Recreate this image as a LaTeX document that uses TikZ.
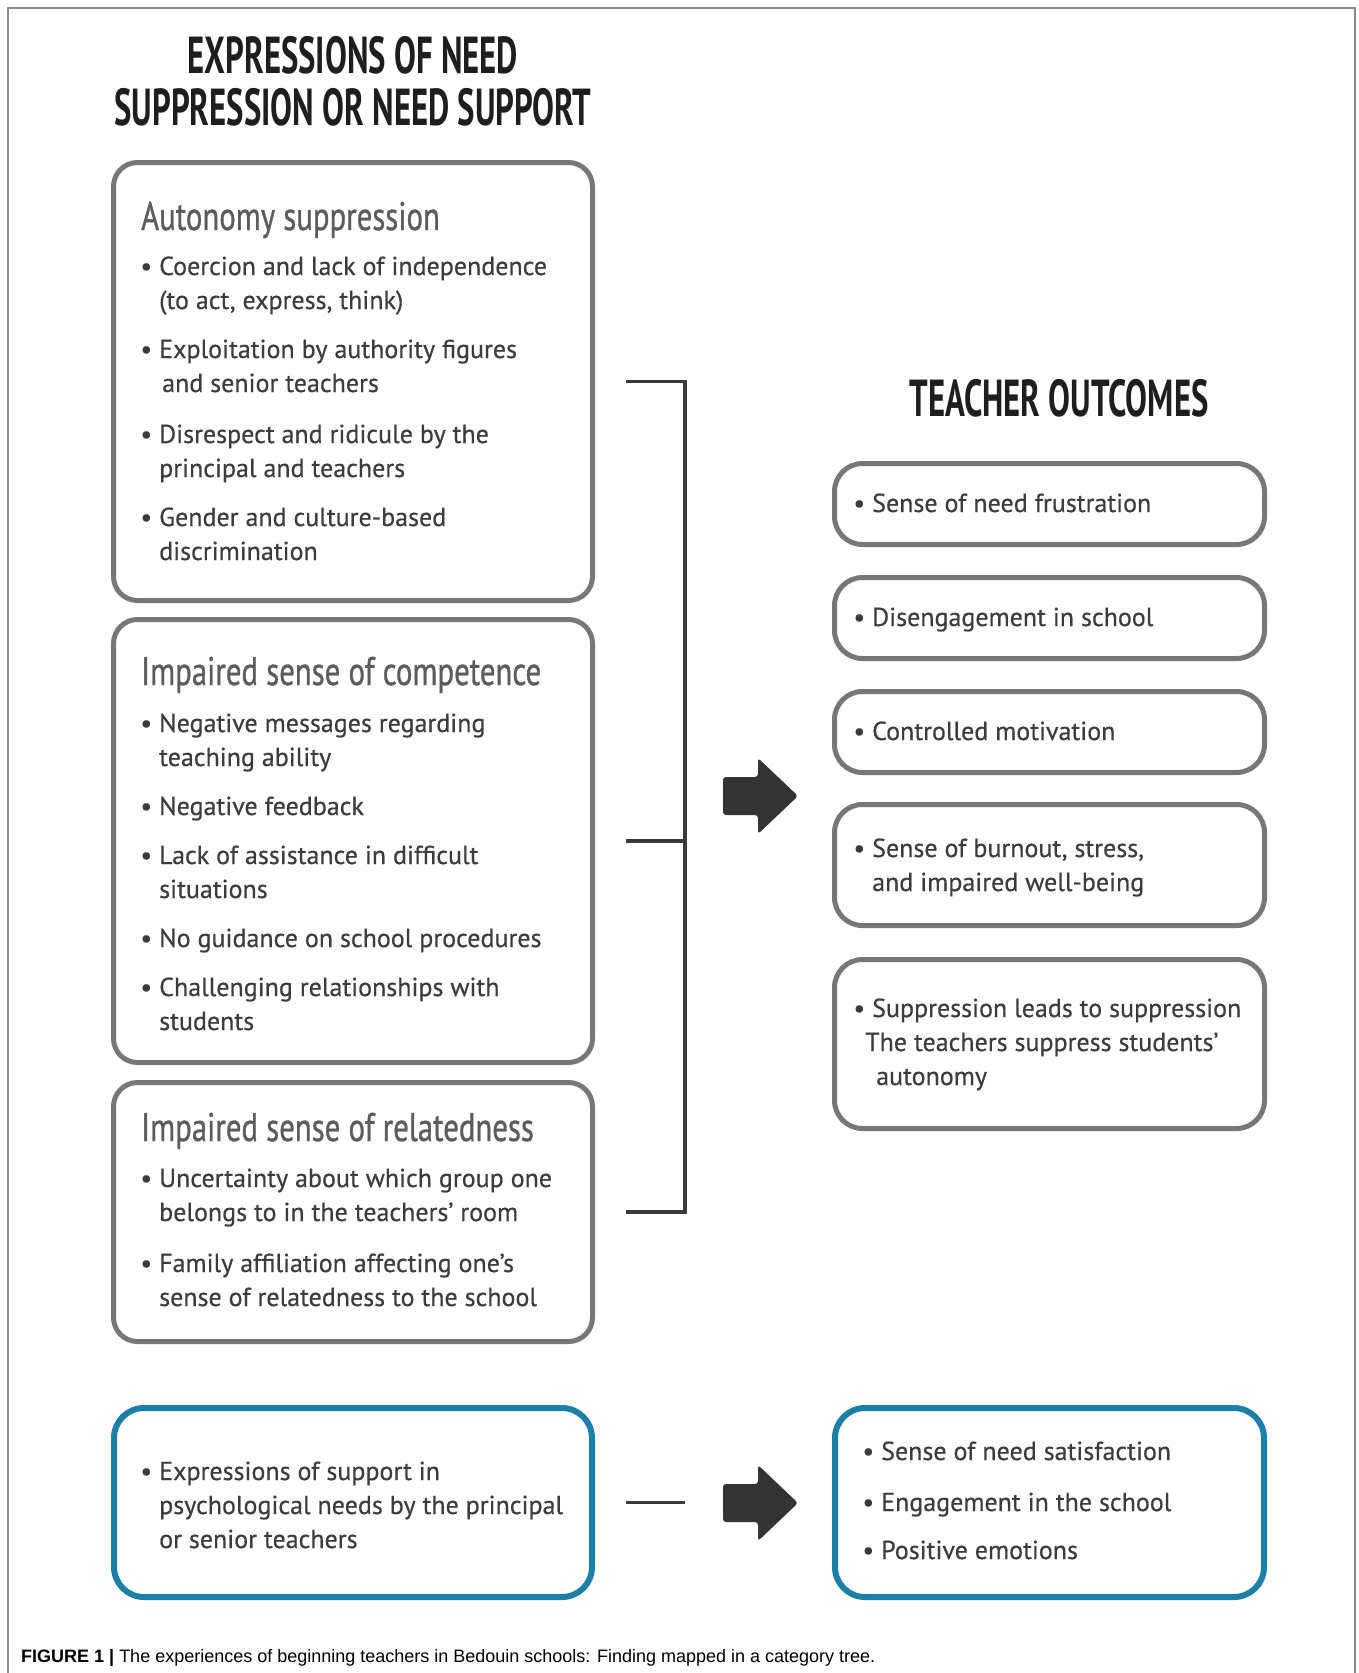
\documentclass[tikz,border=0pt]{standalone}
\usepackage{fontspec}
\setmainfont{PT Sans}[FakeBold=0.5]
\newfontfamily\headfont{PT Sans}[FakeStretch=0.77, FakeBold=0.8]
\newfontfamily\titlefont{PT Sans}[FakeStretch=0.63]
\newfontfamily\capfont{Liberation Sans}
\usetikzlibrary{positioning}

\definecolor{boxgray}{HTML}{777777}
\definecolor{txtgray}{HTML}{3C3C3C}
\definecolor{headgray}{HTML}{5C5C5C}
\definecolor{titlegray}{HTML}{1E1E1E}
\definecolor{linkgray}{HTML}{3A3A3A}
\definecolor{arrowgray}{HTML}{333333}
\definecolor{supblue}{HTML}{1B7FA8}
\definecolor{framegray}{HTML}{8A8A8A}

\newcommand{\bul}[1]{\begin{tabular}[t]{@{}l@{}}\llap{\textbullet\hspace{7pt}}#1\end{tabular}}

\begin{document}
\begin{tikzpicture}[x=1pt, y=-1pt,
    needbox/.style={draw=boxgray, line width=5pt, rounded corners=24pt, inner sep=0pt},
    outbox/.style={draw=boxgray, line width=5pt, rounded corners=28pt, inner sep=0pt},
    supbox/.style={draw=supblue, line width=6pt, rounded corners=30pt, inner sep=0pt},
    titletxt/.style={inner sep=0pt, text=titlegray, font=\titlefont\bfseries\fontsize{52}{52}\selectfont},
    headtxt/.style={anchor=base west, inner sep=0pt, text=headgray, font=\headfont\fontsize{40}{44}\selectfont},
    itemtxt/.style={anchor=base west, inner sep=0pt, text=txtgray, font=\fontsize{26}{34}\selectfont},
    linkline/.style={draw=linkgray, line width=3.5pt},
    fatarrow/.style={fill=arrowgray, rounded corners=3pt}]
    \useasboundingbox (0,0) rectangle (1358,1673);
    \draw[framegray, line width=1.5pt] (8,1673) -- (8,8) -- (1355,8) -- (1355,1673);

    \node[titletxt, align=center] (needtitle) at (353,81) {EXPRESSIONS OF NEED\\SUPPRESSION OR NEED SUPPORT};
    \node[titletxt] (outtitle) at (1059,398) {TEACHER OUTCOMES};

    \node[needbox, minimum width=479pt, minimum height=438pt] (auton) at (353,381.5) {};
    \node[needbox, minimum width=479pt, minimum height=443pt] (compe) at (353,841) {};
    \node[needbox, minimum width=479pt, minimum height=259pt] (relat) at (353,1212) {};

    \node[headtxt] (autonhead) at (141,230) {Autonomy suppression};
    \node[itemtxt] (auton1) at (159,275) {\bul{Coercion and lack of independence\\(to act, express, think)}};
    \node[itemtxt] (auton2) at (159,358) {\bul{Exploitation by authority figures\\\hspace*{3pt}and senior teachers}};
    \node[itemtxt] (auton3) at (159,443) {\bul{Disrespect and ridicule by the\\principal and teachers}};
    \node[itemtxt] (auton4) at (159,526) {\bul{Gender and culture-based\\discrimination}};

    \node[headtxt] (compehead) at (141,685) {Impaired sense of competence};
    \node[itemtxt] (compe1) at (159,732) {\bul{Negative messages regarding\\teaching ability}};
    \node[itemtxt] (compe2) at (159,815) {\bul{Negative feedback}};
    \node[itemtxt] (compe3) at (159,864) {\bul{Lack of assistance in difficult\\situations}};
    \node[itemtxt] (compe4) at (159,947) {\bul{No guidance on school procedures}};
    \node[itemtxt] (compe5) at (159,996) {\bul{Challenging relationships with\\students}};

    \node[headtxt] (relathead) at (141,1141) {Impaired sense of relatedness};
    \node[itemtxt] (relat1) at (159,1187) {\bul{Uncertainty about which group one\\belongs to in the teachers’ room}};
    \node[itemtxt] (relat2) at (159,1272) {\bul{Family affiliation affecting one’s\\sense of relatedness to the school}};

    \draw[linkline] ([xshift=31pt]auton.east) -- ++(59,0) |- ([xshift=31pt]relat.east);
    \draw[linkline] ([xshift=31pt]compe.east) -- ++(59,0);
    \fill[fatarrow, shift={(723,796)}] (0,-19) -- (35,-19) -- (35,-38) -- (75,0) -- (35,38) -- (35,19) -- (0,19) -- cycle;

    \node[outbox, minimum width=430pt, minimum height=81pt] (frust) at (1049.5,504) {};
    \node[outbox, minimum width=430pt, minimum height=81pt] (diseng) at (1049.5,618) {};
    \node[outbox, minimum width=430pt, minimum height=81pt] (contr) at (1049.5,732) {};
    \node[outbox, minimum width=430pt, minimum height=121pt] (burn) at (1049.5,865) {};
    \node[outbox, minimum width=430pt, minimum height=169pt] (suppr) at (1049.5,1044) {};
    \node[itemtxt] (frusttxt) at (872,512) {\bul{Sense of need frustration}};
    \node[itemtxt] (disengtxt) at (872,626) {\bul{Disengagement in school}};
    \node[itemtxt] (contrtxt) at (872,740) {\bul{Controlled motivation}};
    \node[itemtxt] (burntxt) at (872,857) {\bul{Sense of burnout, stress,\\and impaired well-being}};
    \node[itemtxt] (supprtxt) at (872,1017) {\bul{Suppression leads to suppression\\\hspace*{-7pt}The teachers suppress students’\\\hspace*{4pt}autonomy}};

    \node[supbox, minimum width=478pt, minimum height=189pt] (suppo) at (353,1502.5) {};
    \node[supbox, minimum width=429pt, minimum height=189pt] (satis) at (1049.5,1502.5) {};
    \node[itemtxt] (suppotxt) at (159,1480) {\bul{Expressions of support in\\psychological needs by the principal\\or senior teachers}};
    \node[itemtxt] (satis1) at (881,1460) {\bul{Sense of need satisfaction}};
    \node[itemtxt] (satis2) at (881,1511) {\bul{Engagement in the school}};
    \node[itemtxt] (satis3) at (881,1559) {\bul{Positive emotions}};

    \draw[linkline] ([xshift=31pt]suppo.east) -- ++(59,0);
    \fill[fatarrow, shift={(723,1503)}] (0,-19) -- (35,-19) -- (35,-38) -- (75,0) -- (35,38) -- (35,19) -- (0,19) -- cycle;

    \node[anchor=base west, inner sep=0pt, font=\capfont\fontsize{18}{21}\selectfont] (caption) at (21,1662) {\textbf{FIGURE 1 |} The experiences of beginning teachers in Bedouin schools: Finding mapped in a category tree.};
  \end{tikzpicture}
\end{document}
